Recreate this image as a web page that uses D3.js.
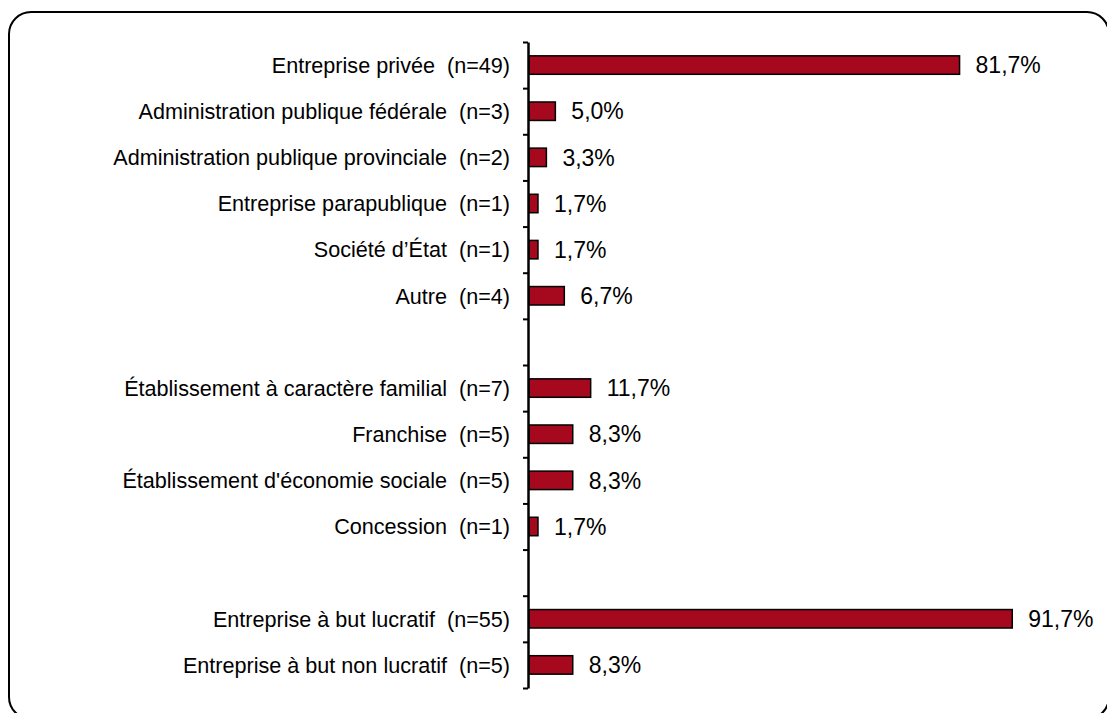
<!DOCTYPE html>
<html><head><meta charset="utf-8">
<script src="https://cdn.jsdelivr.net/npm/d3@7"></script>
<style>
html,body{margin:0;padding:0;background:#fff;}
svg{display:block;}
text{font-family:"Liberation Sans",Arial,sans-serif;white-space:pre;}
</style></head>
<body>
<svg id="chart" width="1107" height="713"></svg>
<script>
// Categories (null = blank separator row)
const categories = [
  "Entreprise privée  (n=49)",
  "Administration publique fédérale  (n=3)",
  "Administration publique provinciale  (n=2)",
  "Entreprise parapublique  (n=1)",
  "Société d’État  (n=1)",
  "Autre  (n=4)",
  null,
  "Établissement à caractère familial  (n=7)",
  "Franchise  (n=5)",
  "Établissement d'économie sociale  (n=5)",
  "Concession  (n=1)",
  null,
  "Entreprise à but lucratif  (n=55)",
  "Entreprise à but non lucratif  (n=5)"
];
const values = [81.7, 5.0, 3.3, 1.7, 1.7, 6.7, null, 11.7, 8.3, 8.3, 1.7, null, 91.7, 8.3];

(function () {
const svg = d3.select("#chart");

// frame
svg.append("rect").attr("x", 9).attr("y", 12).attr("width", 1100).attr("height", 707)
  .attr("rx", 22).attr("ry", 22).attr("fill", "#fff").attr("stroke", "#000").attr("stroke-width", 2);

const plotTop = 42, plotBottom = 688, axisX = 528;
const idx = d3.range(categories.length);
const y = d3.scaleBand().domain(idx).range([plotTop, plotBottom]).paddingInner(0).paddingOuter(0);
const x = d3.scaleLinear().domain([0, 100]).range([529, 1056]);
const barH = y.bandwidth() * 0.4;

const rows = idx.filter(i => categories[i] !== null);

// bars
svg.append("g").selectAll("rect").data(rows).join("rect")
  .attr("x", x(0))
  .attr("y", i => y(i) + y.bandwidth() / 2 - barH / 2)
  .attr("width", i => x(values[i]) - x(0))
  .attr("height", barH)
  .attr("fill", "#a6091d")
  .attr("stroke", "#000")
  .attr("stroke-width", 1.5);

// value labels
const fmt = v => d3.format(".1f")(v).replace(".", ",") + "%";
svg.append("g").selectAll("text").data(rows).join("text")
  .attr("x", i => x(values[i]) + 16)
  .attr("y", i => y(i) + y.bandwidth() / 2)
  .attr("dy", "0.36em")
  .attr("font-size", 23)
  .attr("fill", "#000")
  .text(i => fmt(values[i]));

// category labels
svg.append("g").selectAll("text").data(rows).join("text")
  .attr("x", 510)
  .attr("y", i => y(i) + y.bandwidth() / 2)
  .attr("dy", "0.36em")
  .attr("text-anchor", "end")
  .attr("font-size", 21.6)
  .attr("fill", "#000")
  .text(i => categories[i]);

// axis with ticks at band boundaries
const yb = d3.scaleLinear().domain([0, categories.length]).range([plotTop, plotBottom]);
const axis = d3.axisLeft(yb).tickValues(d3.range(categories.length + 1)).tickFormat("").tickSize(5).tickSizeOuter(0);
const ag = svg.append("g").attr("transform", `translate(${axisX},0)`).call(axis);
ag.select(".domain").attr("stroke", "#000").attr("stroke-width", 2.5);
ag.selectAll(".tick line").attr("stroke", "#000").attr("stroke-width", 2);
})();
</script>
</body></html>
